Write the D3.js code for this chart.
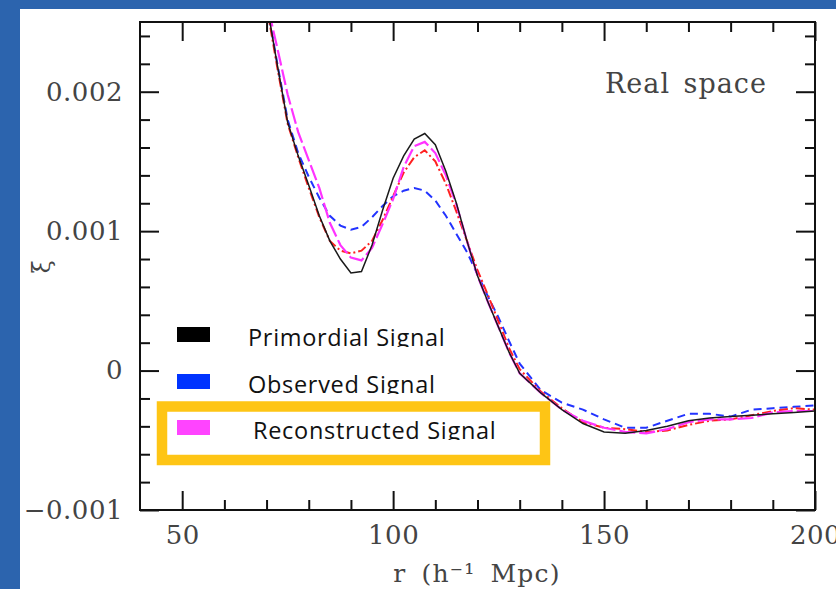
<!DOCTYPE html>
<html>
<head>
<meta charset="utf-8">
<script src="https://cdn.jsdelivr.net/npm/d3@7"></script>
<style>
  body { margin: 0; background: #2c64ae; }
  svg { display: block; }
</style>
</head>
<body>
<script>
// separation r (h^-1 Mpc), shared by every curve
const r = [67.5, 70, 72.5, 75, 77.5, 80, 82.5, 85, 87.5, 90, 92.5, 95, 97.5, 100, 102.5, 105, 107.5, 110,
  112.5, 115, 117.5, 120, 122.5, 125, 127.5, 130, 135, 140, 145, 150, 155, 160, 165, 170, 175, 180, 185, 190, 195, 200]

const primordial = [0.00308, 0.00264, 0.00220, 0.00178, 0.00154, 0.00133, 0.00111, 0.00093, 0.00080, 0.00070,
  0.00071, 0.00090, 0.00115, 0.00138, 0.00154, 0.00166, 0.00170, 0.00162, 0.00143, 0.00120, 0.00093, 0.00068,
  0.00049, 0.00031, 0.00013, -0.00002, -0.00016, -0.00028, -0.00038, -0.00044, -0.00045, -0.00043, -0.00040,
  -0.00036, -0.00034, -0.00033, -0.00032, -0.00031, -0.00030, -0.00029]

const observed = [0.00308, 0.00264, 0.00221, 0.00180, 0.00156, 0.00139, 0.00124, 0.00111, 0.00104, 0.00101,
  0.00103, 0.00110, 0.00118, 0.00125, 0.00129, 0.00131, 0.00129, 0.00122, 0.00111, 0.00098, 0.00085, 0.00069,
  0.00053, 0.00038, 0.00021, 0.00005, -0.00014, -0.00023, -0.00028, -0.00035, -0.00041, -0.00041, -0.00036,
  -0.00031, -0.00031, -0.00033, -0.00028, -0.00027, -0.00026, -0.00025]

const intermediate = [0.00306, 0.00262, 0.00218, 0.00177, 0.00153, 0.00131, 0.00110, 0.00093, 0.00086, 0.00084,
  0.00086, 0.00093, 0.00108, 0.00125, 0.00142, 0.00153, 0.00158, 0.00150, 0.00134, 0.00114, 0.00093, 0.00072,
  0.00054, 0.00035, 0.00016, 0.00001, -0.00015, -0.00027, -0.00037, -0.00041, -0.00042, -0.00044, -0.00043,
  -0.00039, -0.00036, -0.00035, -0.00032, -0.00029, -0.00027, -0.00028]

const reconstructed = [0.00300, 0.00265, 0.00232, 0.00198, 0.00171, 0.00151, 0.00131, 0.00106, 0.00090, 0.00081,
  0.00079, 0.00088, 0.00105, 0.00123, 0.00146, 0.00161, 0.00164, 0.00156, 0.00140, 0.00119, 0.00093, 0.00068,
  0.00049, 0.00031, 0.00013, -0.00002, -0.00016, -0.00028, -0.00036, -0.00041, -0.00044, -0.00045, -0.00042,
  -0.00037, -0.00035, -0.00035, -0.00034, -0.00030, -0.00029, -0.00029]

const xMajor = [50, 100, 150, 200]
const xMinor = [60, 70, 80, 90, 110, 120, 130, 140, 160, 170, 180, 190]
const yMajor = [-0.001, 0, 0.001, 0.002]
const yMinor = [-0.0008, -0.0006, -0.0004, -0.0002, 0.0002, 0.0004, 0.0006, 0.0008,
  0.0012, 0.0014, 0.0016, 0.0018, 0.0022, 0.0024]
const yLabels = ['\u22120.001', '0', '0.001', '0.002']

const legendNames = ['Primordial Signal', 'Observed Signal', 'Reconstructed Signal']
const legendColors = ['#000000', '#0033ff', '#ff44ff']

const width = 836
const height = 589
const plot = {left: 140, right: 815, top: 22, bottom: 510}

const svg = d3.select('body').append('svg')
  .attr('width', width)
  .attr('height', height)

svg.append('rect')
  .attr('width', width).attr('height', height)
  .attr('fill', '#2c64ae')
svg.append('rect')
  .attr('x', 20).attr('y', 9)
  .attr('width', width - 20).attr('height', height - 9)
  .attr('fill', '#ffffff')

const xScale = d3.scaleLinear()
  .domain([40, 200])
  .range([plot.left, plot.right])

const yScale = d3.scaleLinear()
  .domain([-0.001, 0.0025])
  .range([plot.bottom, plot.top])

svg.append('clipPath').attr('id', 'plotclip')
  .append('rect')
  .attr('x', plot.left).attr('y', plot.top)
  .attr('width', plot.right - plot.left).attr('height', plot.bottom - plot.top)

const series = [
  {values: observed, color: '#2233ff', width: 2, dash: '8,5'},
  {values: intermediate, color: '#ff2020', width: 2, dash: '9,3,2,3'},
  {values: reconstructed, color: '#ff33ff', width: 2.2, dash: '16,4'},
  {values: primordial, color: '#1a1a1a', width: 1.5, dash: null}
]

const line = d3.line()
  .x((d, i) => xScale(r[i]))
  .y(d => yScale(d))

svg.append('g')
  .attr('clip-path', 'url(#plotclip)')
  .selectAll('path')
  .data(series)
  .join('path')
  .attr('d', d => line(d.values))
  .attr('fill', 'none')
  .attr('stroke', d => d.color)
  .attr('stroke-width', d => d.width)
  .attr('stroke-dasharray', d => d.dash)

// axes: ticks point inward on all four sides
const tickFont = 'DejaVu Serif'
const textGray = '#444'
function styleAxis(g) {
  g.select('.domain').remove()
  g.selectAll('line').attr('stroke', '#111').attr('stroke-width', 2)
  g.selectAll('text')
    .attr('font-family', tickFont)
    .attr('font-size', 26)
    .attr('letter-spacing', 0.5)
    .attr('fill', textGray)
}

svg.append('g')
  .attr('transform', `translate(0,${plot.bottom})`)
  .call(d3.axisBottom(xScale).tickValues(xMajor).tickSize(-19).tickPadding(16).tickFormat(d3.format('d')))
  .call(styleAxis)
svg.append('g')
  .attr('transform', `translate(0,${plot.bottom})`)
  .call(d3.axisBottom(xScale).tickValues(xMinor).tickSize(-10).tickFormat(''))
  .call(styleAxis)
svg.append('g')
  .attr('transform', `translate(0,${plot.top})`)
  .call(d3.axisTop(xScale).tickValues(xMajor).tickSize(-19).tickFormat(''))
  .call(styleAxis)
svg.append('g')
  .attr('transform', `translate(0,${plot.top})`)
  .call(d3.axisTop(xScale).tickValues(xMinor).tickSize(-10).tickFormat(''))
  .call(styleAxis)

svg.append('g')
  .attr('transform', `translate(${plot.left},0)`)
  .call(d3.axisLeft(yScale).tickValues(yMajor).tickSize(-19).tickPadding(17)
    .tickFormat((d, i) => yLabels[i]))
  .call(styleAxis)
svg.append('g')
  .attr('transform', `translate(${plot.left},0)`)
  .call(d3.axisLeft(yScale).tickValues(yMinor).tickSize(-10).tickFormat(''))
  .call(styleAxis)
svg.append('g')
  .attr('transform', `translate(${plot.right},0)`)
  .call(d3.axisRight(yScale).tickValues(yMajor).tickSize(-19).tickFormat(''))
  .call(styleAxis)
svg.append('g')
  .attr('transform', `translate(${plot.right},0)`)
  .call(d3.axisRight(yScale).tickValues(yMinor).tickSize(-10).tickFormat(''))
  .call(styleAxis)

svg.append('rect')
  .attr('x', plot.left).attr('y', plot.top)
  .attr('width', plot.right - plot.left).attr('height', plot.bottom - plot.top)
  .attr('fill', 'none')
  .attr('stroke', '#111')
  .attr('stroke-width', 2)

// titles
svg.append('text')
  .attr('x', 477).attr('y', 582)
  .attr('text-anchor', 'middle')
  .attr('font-family', tickFont).attr('font-size', 25).attr('fill', textGray)
  .attr('letter-spacing', 1.2).attr('word-spacing', 6)
  .text('r (h\u207B\u00B9 Mpc)')

svg.append('text')
  .attr('transform', 'translate(50,267) rotate(-90)')
  .attr('text-anchor', 'middle')
  .attr('font-family', tickFont).attr('font-size', 24).attr('fill', textGray)
  .text('\u03BE')

svg.append('text')
  .attr('x', 605).attr('y', 93)
  .attr('font-family', tickFont).attr('font-size', 27).attr('fill', textGray)
  .attr('letter-spacing', 1).attr('word-spacing', 4)
  .text('Real space')

// legend
const legendRows = [346, 393, 439]
const legend = svg.append('g')
legendNames.forEach((name, i) => {
  const base = legendRows[i]
  legend.append('clipPath').attr('id', 'lg' + i)
    .append('rect').attr('x', 200).attr('y', base - 30).attr('width', 330).attr('height', 31)
  legend.append('rect')
    .attr('x', 177).attr('y', base - 19)
    .attr('width', 33).attr('height', 15)
    .attr('fill', legendColors[i])
  legend.append('text')
    .attr('x', i === 2 ? 253 : 248).attr('y', base)
    .attr('clip-path', `url(#lg${i})`)
    .attr('font-family', 'Open Sans').attr('font-size', 23.5).attr('fill', '#111')
    .attr('letter-spacing', 0.7)
    .text(name)
})

svg.append('rect')
  .attr('x', 162).attr('y', 406.5)
  .attr('width', 383).attr('height', 53.5)
  .attr('fill', 'none')
  .attr('stroke', '#fec515')
  .attr('stroke-width', 10.5)
</script>
</body>
</html>
